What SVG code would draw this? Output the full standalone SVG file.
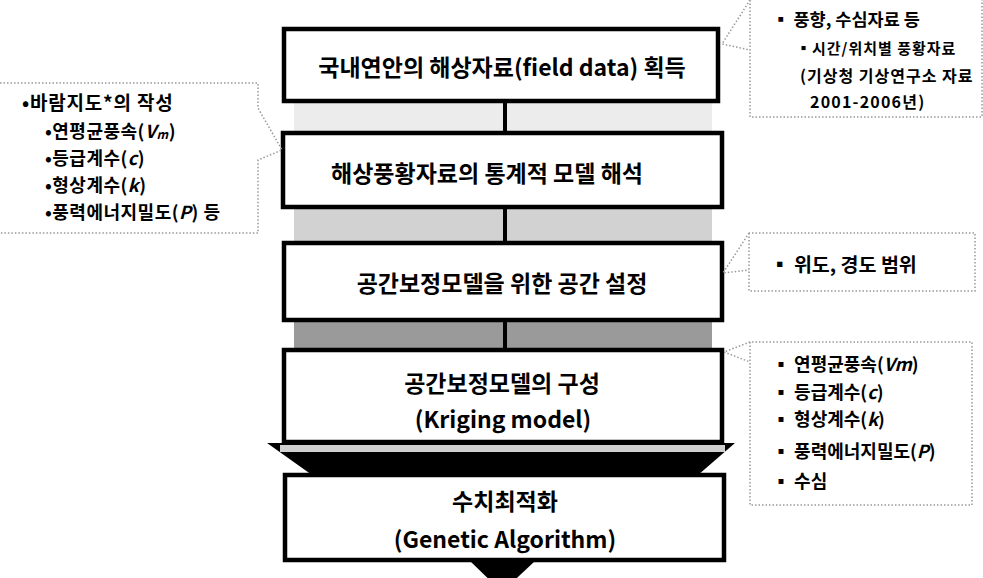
<svg xmlns="http://www.w3.org/2000/svg" width="983" height="578" viewBox="0 0 983 578">
<style>
.box{fill:#fff;stroke:#000;stroke-width:4.5}
.bt{font-family:"Noto Sans CJK KR","Liberation Sans",sans-serif;font-weight:bold;font-size:23px;fill:#000;text-anchor:middle;dominant-baseline:central}
.ct{font-family:"Noto Sans CJK KR","Liberation Sans",sans-serif;font-weight:bold;fill:#000;dominant-baseline:central}
.co{fill:none;stroke:#999;stroke-width:1.5;stroke-dasharray:1.5 2}
.conn{stroke:#000;stroke-width:4;fill:none}
</style>
<rect width="983" height="578" fill="#fff"/>
<g id="connectors">
<rect x="294" y="101" width="418" height="31" fill="#ececec"/>
<rect x="294" y="207" width="418" height="36" fill="#d2d2d2"/>
<rect x="294" y="320" width="418" height="30" fill="#9a9a9a"/>
<polygon points="267,443 735,443 698,475 312,475" fill="#000"/>
<rect x="280" y="445" width="445" height="7" fill="#cfcfcf"/>
<line class="conn" x1="505" y1="101" x2="505" y2="133"/>
<line class="conn" x1="505" y1="207" x2="505" y2="243"/>
<line class="conn" x1="505" y1="320" x2="505" y2="350"/>
<polygon points="470,561 535,561 502,592" fill="#000"/>
</g>
<g id="n1"><rect class="box" x="284" y="29" width="434" height="72"/><text class="bt" x="502" y="66">국내연안의 해상자료(field data) 획득</text></g>
<g id="n2"><rect class="box" x="283" y="133" width="439" height="74"/><text class="bt" x="487" y="172" font-size="20.5">해상풍황자료의 통계적 모델 해석</text></g>
<g id="n3"><rect class="box" x="284" y="243" width="438" height="77"/><text class="bt" x="502" y="282">공간보정모델을 위한 공간 설정</text></g>
<g id="n4"><rect class="box" x="284" y="350" width="438" height="92"/><text class="bt" x="502" y="382">공간보정모델의 구성</text><text class="bt" x="503" y="418">(Kriging model)</text></g>
<g id="n5"><rect class="box" x="285" y="475" width="439" height="85"/><text class="bt" x="505" y="500">수치최적화</text><text class="bt" x="505" y="538">(Genetic Algorithm)</text></g>
<g id="c1">
<path class="co" d="M750,0 L722,44 L750,50 M750,0 V117 H982 V0"/>
<text class="ct" x="772" y="18" font-size="17.5">▪ 풍향, 수심자료 등</text>
<text class="ct" x="796" y="47" font-size="15" letter-spacing="1">▪시간/위치별 풍황자료</text>
<text class="ct" x="800" y="75" font-size="16" letter-spacing="1">(기상청 기상연구소 자료</text>
<text class="ct" x="810" y="101" font-size="16" letter-spacing="1.2">2001-2006년)</text>
</g>
<g id="c2">
<path class="co" d="M0,83 H258 V108 L282,150 L258,160 V233 H0"/>
<text class="ct" x="22" y="101" font-size="19" letter-spacing="0.8">•바람지도*의 작성</text>
<text class="ct" x="45" y="130" font-size="18" letter-spacing="0.5">•연평균풍속(<tspan font-style="italic">V<tspan font-size="12" dy="3">m</tspan></tspan><tspan dy="-3">)</tspan></text>
<text class="ct" x="45" y="157" font-size="18" letter-spacing="0.5">•등급계수(<tspan font-style="italic">c</tspan>)</text>
<text class="ct" x="45" y="184" font-size="18" letter-spacing="0.5">•형상계수(<tspan font-style="italic">k</tspan>)</text>
<text class="ct" x="45" y="211" font-size="18" letter-spacing="0.5">•풍력에너지밀도(<tspan font-style="italic">P</tspan>) 등</text>
</g>
<g id="c3">
<path class="co" d="M749,233 L723,273 L749,270 M749,233 V291 H975 V233 H749"/>
<text class="ct" x="770" y="263" font-size="19.5">▪ 위도, 경도 범위</text>
</g>
<g id="c4">
<path class="co" d="M750,342 L724,352 L750,362 M750,342 V505 H972 V342 H750"/>
<text class="ct" x="772" y="363" font-size="18">▪ 연평균풍속(<tspan font-style="italic">Vm</tspan>)</text>
<text class="ct" x="772" y="391" font-size="18">▪ 등급계수(<tspan font-style="italic">c</tspan>)</text>
<text class="ct" x="772" y="418" font-size="18">▪ 형상계수(<tspan font-style="italic">k</tspan>)</text>
<text class="ct" x="772" y="450" font-size="18">▪ 풍력에너지밀도(<tspan font-style="italic">P</tspan>)</text>
<text class="ct" x="772" y="480" font-size="18">▪ 수심</text>
</g>
</svg>
